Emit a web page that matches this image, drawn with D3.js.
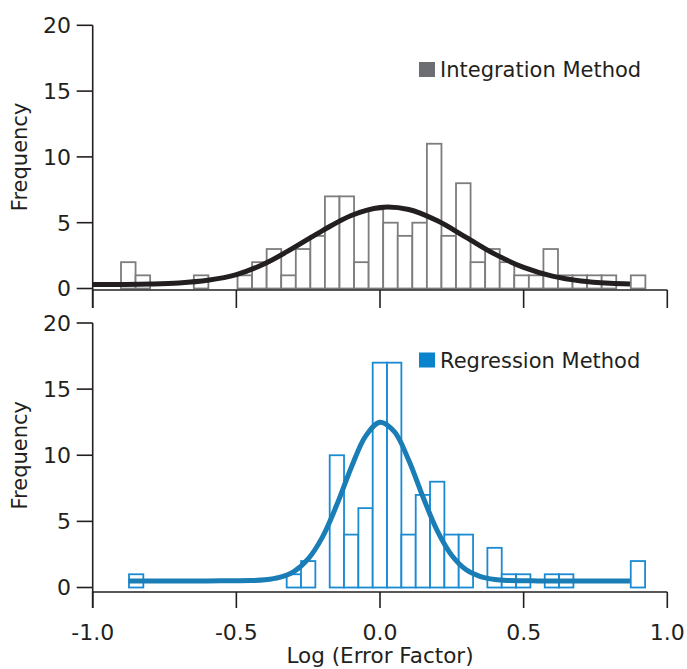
<!DOCTYPE html>
<html><head><meta charset="utf-8">
<script src="https://cdn.jsdelivr.net/npm/d3@7"></script>
<style>body{margin:0;background:#fff}</style>
</head><body><svg id="c" width="687" height="669"></svg>
<script>
// ---- data ----
const integrationCounts = [2,1,0,0,0,1,0,0,1,2,3,1,3,4,7,7,2,6,5,4,5,11,4,8,2,3,2,1,1,3,1,1,1,1,0,1];
const integrationBinStart = -0.9015;
const integrationBinWidth = 0.0507;
const regressionCounts = [1,0,0,0,0,0,0,0,0,0,0,1,2,0,10,4,6,17,17,4,7,8,4,4,0,3,1,1,0,1,1,0,0,0,0,2];
const regressionBinStart = -0.8737;
const regressionBinWidth = 0.0499;
const integrationFitX = [-1.0,-0.9,-0.8,-0.7,-0.6,-0.5,-0.4,-0.3,-0.2,-0.1,0.0,0.1,0.2,0.3,0.4,0.5,0.6,0.7,0.8,0.87];
const integrationFitY = [0.30,0.31,0.34,0.42,0.62,1.05,1.9,3.1,4.4,5.55,6.16,6.0,5.14,3.88,2.61,1.6,0.94,0.57,0.40,0.35];
const regressionFitX = [-0.875,-0.6,-0.45,-0.4,-0.35,-0.3,-0.25,-0.2,-0.15,-0.1,-0.05,0,0.05,0.1,0.15,0.2,0.25,0.3,0.35,0.4,0.45,0.55,0.87];
const regressionFitY = [0.5,0.5,0.52,0.58,0.76,1.2,2.16,3.83,6.27,9.08,11.45,12.5,11.78,9.62,6.82,4.26,2.42,1.34,0.82,0.6,0.53,0.5,0.5];
const xTicks = [-1.0,-0.5,0.0,0.5,1.0];
const xTickLabels = ["-1.0","-0.5","0.0","0.5","1.0"];
const yTicks = [0,5,10,15,20];
const seriesNames = ["Integration Method","Regression Method"];

// ---- layout ----
const svg = d3.select("#c");
const FONT = "'DejaVu Sans', sans-serif";
const axisColor = "#231f20";
const x = d3.scaleLinear().domain([-1,1]).range([92.7,667.3]);

const panels = [
  {counts: integrationCounts, start: integrationBinStart, width: integrationBinWidth,
   fx: integrationFitX, fy: integrationFitY, name: seriesNames[0],
   y0: 288.5, y20: 25.3, axisY: 290, tickEnd: 308, showLabels: false,
   barColor: "#7d7d7d", curveColor: "#231f20", legendColor: "#6d6e71", legendY: 62},
  {counts: regressionCounts, start: regressionBinStart, width: regressionBinWidth,
   fx: regressionFitX, fy: regressionFitY, name: seriesNames[1],
   y0: 587.5, y20: 323, axisY: 592, tickEnd: 608, showLabels: true,
   barColor: "#1a8ad2", curveColor: "#1a7db6", legendColor: "#0a84cc", legendY: 352.5}
];

panels.forEach(p => {
  const y = d3.scaleLinear().domain([0,20]).range([p.y0, p.y20]);
  const g = svg.append("g");

  // bars
  g.selectAll("rect.bar").data(p.counts.map((c,i)=>({c,i}))).enter().append("rect")
    .attr("x", d => x(p.start + d.i*p.width))
    .attr("width", d => x(p.start + (d.i+1)*p.width) - x(p.start + d.i*p.width))
    .attr("y", d => y(d.c))
    .attr("height", d => y(0) - y(d.c))
    .attr("fill", "#fff")
    .attr("stroke", p.barColor)
    .attr("stroke-width", 1.8);

  // fit curve
  const line = d3.line().x(d => x(d[0])).y(d => y(d[1])).curve(d3.curveCatmullRom);
  g.append("path").datum(p.fx.map((v,i)=>[v,p.fy[i]]))
    .attr("d", line).attr("fill","none")
    .attr("stroke", p.curveColor).attr("stroke-width", 5).attr("stroke-linecap","butt");

  // y axis
  g.append("line").attr("x1", x(-1)).attr("x2", x(-1)).attr("y1", y(20)).attr("y2", p.tickEnd)
    .attr("stroke", axisColor).attr("stroke-width", 1.6);
  yTicks.forEach(t => {
    g.append("line").attr("x1", x(-1)-16).attr("x2", x(-1)).attr("y1", y(t)).attr("y2", y(t))
      .attr("stroke", axisColor).attr("stroke-width", 1.6);
    g.append("text").attr("x", 71).attr("y", y(t)).attr("dy","0.36em")
      .attr("text-anchor","end").attr("font-family",FONT).attr("font-size",22)
      .attr("fill","#231f20").text(t);
  });
  g.append("text")
    .attr("transform", `translate(27,${(y(0)+y(20))/2}) rotate(-90)`)
    .attr("text-anchor","middle").attr("font-family",FONT).attr("font-size",21)
    .attr("fill","#231f20").text("Frequency");

  // x axis
  g.append("line").attr("x1", x(-1)).attr("x2", x(1)).attr("y1", p.axisY).attr("y2", p.axisY)
    .attr("stroke", axisColor).attr("stroke-width", 1.6);
  xTicks.forEach((t,i) => {
    g.append("line").attr("x1", x(t)).attr("x2", x(t)).attr("y1", p.axisY).attr("y2", p.tickEnd)
      .attr("stroke", axisColor).attr("stroke-width", 1.6);
    if (p.showLabels) {
      g.append("text").attr("x", x(t)).attr("y", 640)
        .attr("text-anchor","middle").attr("font-family",FONT).attr("font-size",22)
        .attr("fill","#231f20").text(xTickLabels[i]);
    }
  });

  // legend
  g.append("rect").attr("x", 419).attr("y", p.legendY).attr("width", 16).attr("height", 15)
    .attr("fill", p.legendColor);
  g.append("text").attr("x", 440).attr("y", p.legendY + 15)
    .attr("font-family",FONT).attr("font-size",21).attr("fill","#231f20").text(p.name);
});

svg.append("text").attr("x", x(0)).attr("y", 663)
  .attr("text-anchor","middle").attr("font-family",FONT).attr("font-size",21.5)
  .attr("fill","#231f20").text("Log (Error Factor)");
</script>
</body></html>
